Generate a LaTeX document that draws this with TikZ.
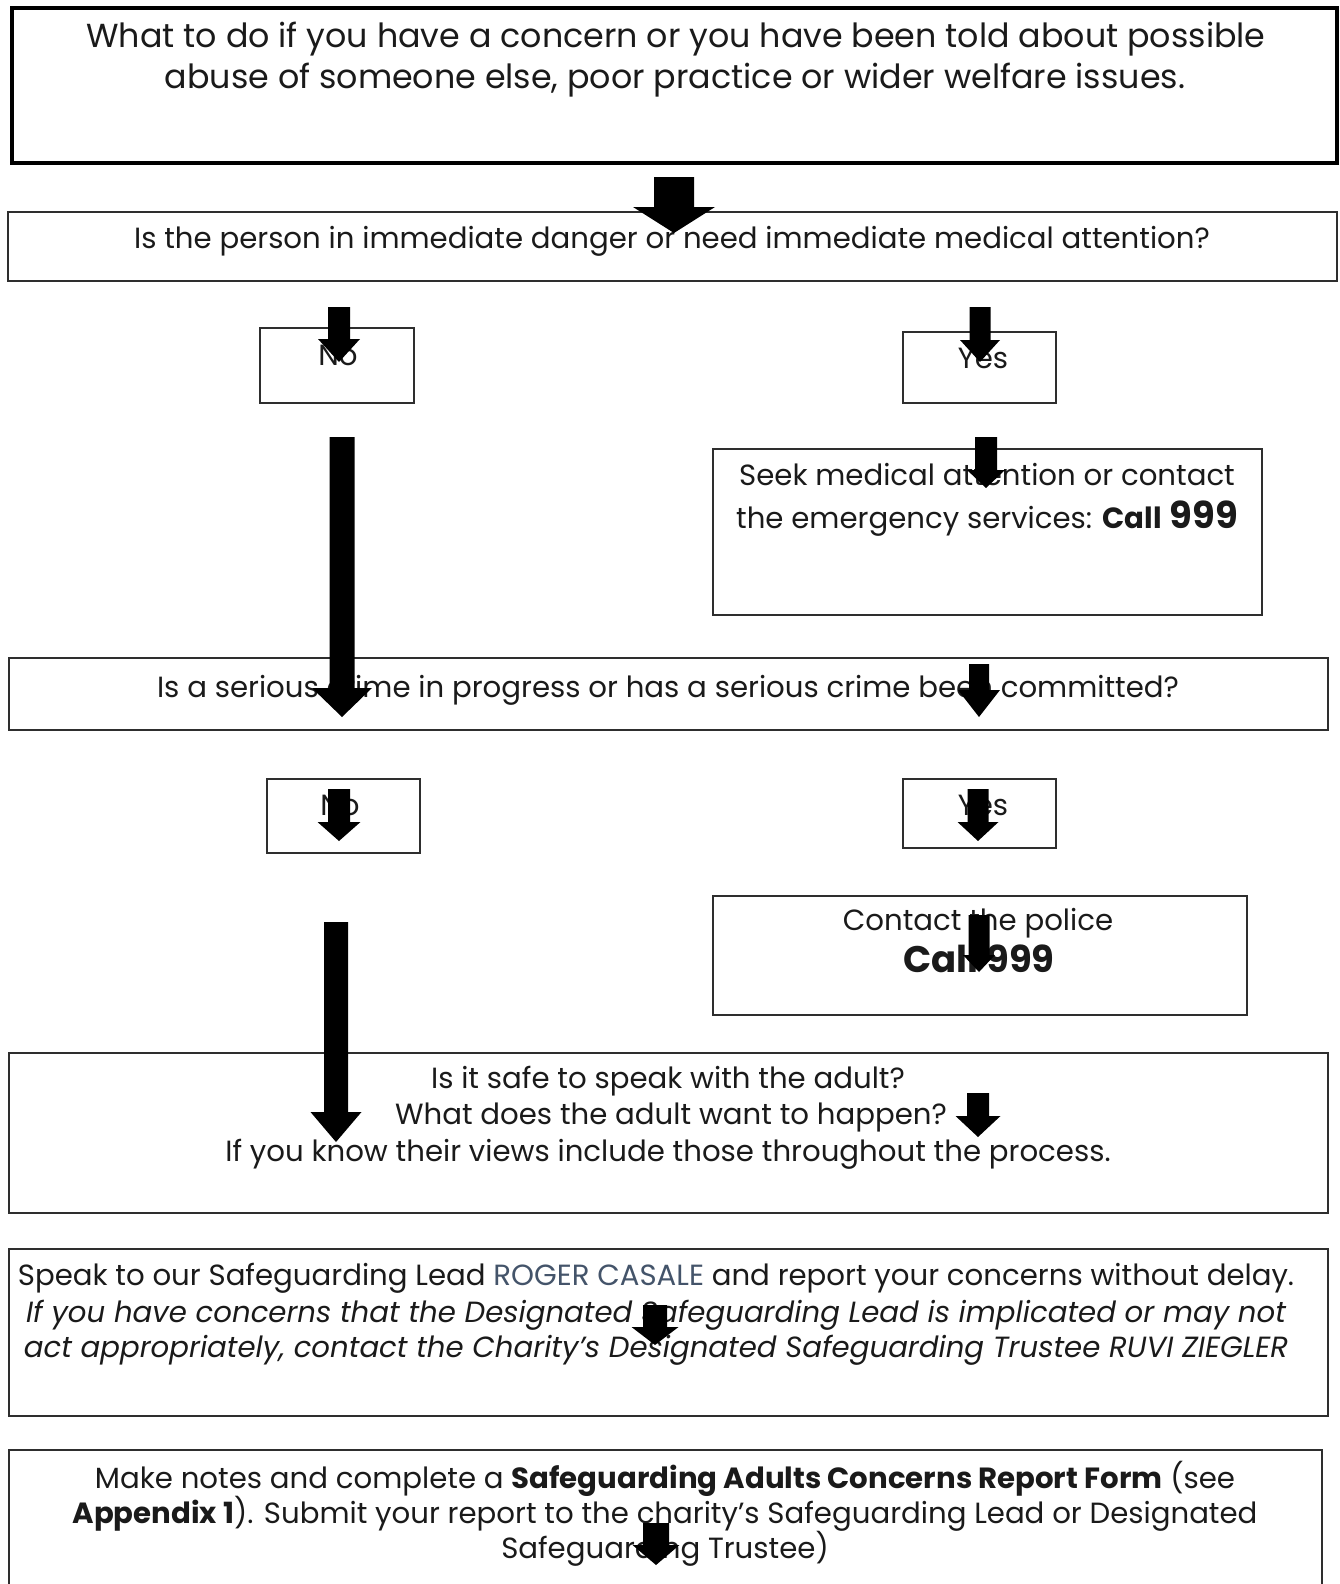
\documentclass[tikz,border=0pt]{standalone}
\usepackage{fontspec}
\setmainfont{Poppins}
\definecolor{ink}{HTML}{1A1A1A}
\definecolor{boxc}{HTML}{2E2E2E}
\definecolor{slate}{HTML}{44546A}
\newcommand\blkarrow[6]{\fill[black] (#1-#5,#2) -- (#1+#5,#2) -- (#1+#5,#3) -- (#1+#6,#3) -- (#1,#4) -- (#1-#6,#3) -- (#1-#5,#3) -- cycle;}
\begin{document}
\begin{tikzpicture}[x=1pt,y=-1pt,
  box/.style={draw=boxc, line width=1.6pt, inner sep=0pt, rectangle, fill=none},
  bigbox/.style={draw=black, line width=4.5pt, inner sep=0pt, rectangle},
  txt/.style={inner sep=0pt, anchor=base, text=ink, font=\fontsize{29.2}{35}\selectfont},
  bigtxt/.style={txt, font=\fontsize{33.3}{40}\selectfont},
  numtxt/.style={txt, font=\fontsize{37}{42}\selectfont\bfseries}]
\useasboundingbox (0,0) rectangle (1340,1584);
\clip (0,0) rectangle (1340,1584);
\fill[white] (0,0) rectangle (1340,1584);
% boxes
\node[bigbox, minimum width=1325pt, minimum height=155pt] (top) at (674.5,85.5) {};
\node[box, minimum width=1329pt, minimum height=69pt] (q1) at (672.5,246.5) {};
\node[box, minimum width=154pt, minimum height=75pt] (no1) at (337,365.5) {};
\node[box, minimum width=153pt, minimum height=71pt] (yes1) at (979.5,367.5) {};
\node[box, minimum width=549pt, minimum height=166pt] (seek) at (987.5,532) {};
\node[box, minimum width=1319pt, minimum height=72pt] (q2) at (668.5,694) {};
\node[box, minimum width=153pt, minimum height=74pt] (no2) at (343.5,816) {};
\node[box, minimum width=153pt, minimum height=69pt] (yes2) at (979.5,813.5) {};
\node[box, minimum width=534pt, minimum height=119pt] (police) at (980,955.5) {};
\node[box, minimum width=1319pt, minimum height=160pt] (q3) at (668.5,1133) {};
\node[box, minimum width=1319pt, minimum height=167pt] (speak) at (668.5,1332.5) {};
\node[box, minimum width=1313pt, minimum height=150pt] (make) at (665.5,1525) {};
% texts
\node[bigtxt] (t1a) at (676,48) {What to do if you have a concern or you have been told about possible};
\node[bigtxt] (t1b) at (675,89) {abuse of someone else, poor practice or wider welfare issues.};
\node[txt] (q1t) at (672,248) {Is the person in immediate danger or need immediate medical attention?};
\node[txt] (no1t) at (338,365) {No};
\node[txt] (yes1t) at (983,368) {Yes};
\node[txt] (seeka) at (987,485) {Seek medical attention or contact};
\node[txt] (seekb) at (987,528) {the emergency services: \textbf{Call} {\fontsize{37}{42}\selectfont\bfseries 999}};
\node[txt] (q2t) at (668,697) {Is a serious crime in progress or has a serious crime been committed?};
\node[txt] (no2t) at (340,815) {No};
\node[txt] (yes2t) at (983,815) {Yes};
\node[txt] (pola) at (978,930) {Contact the police};
\node[numtxt] (polb) at (979,972) {Call 999};
\node[txt] (q3a) at (668,1088) {Is it safe to speak with the adult?};
\node[txt] (q3b) at (671,1124) {What does the adult want to happen?};
\node[txt] (q3c) at (668,1161) {If you know their views include those throughout the process.};
\node[txt] (spa) at (656,1285) {Speak to our Safeguarding Lead \textcolor{slate}{ROGER CASALE} and report your concerns without delay.};
\node[txt] (spb) at (656,1322) {\itshape If you have concerns that the Designated Safeguarding Lead is implicated or may not};
\node[txt] (spc) at (656,1357) {\itshape act appropriately, contact the Charity’s Designated Safeguarding Trustee RUVI ZIEGLER};
\node[txt] (mka) at (665,1488) {Make notes and complete a \textbf{Safeguarding Adults Concerns Report Form} (see};
\node[txt] (mkb) at (665,1523) {\textbf{Appendix 1}). Submit your report to the charity’s Safeguarding Lead or Designated};
\node[txt] (mkc) at (665,1558) {Safeguarding Trustee)};
% block arrows
\blkarrow{674}{177}{207}{233}{20}{41}
\blkarrow{339}{307}{339}{362}{11}{21}
\blkarrow{980}{307}{340}{362}{10.5}{20}
\blkarrow{986}{437}{470}{488}{11}{19}
\blkarrow{342}{437}{688}{717}{12.5}{30}
\blkarrow{979}{664}{690}{717}{10}{21}
\blkarrow{339}{789}{822}{841}{11}{21.5}
\blkarrow{978}{789}{822}{841}{10.5}{20.5}
\blkarrow{979}{915}{955}{972}{10.5}{16}
\blkarrow{336}{922}{1112}{1142}{12}{25.5}
\blkarrow{978}{1093}{1116}{1137}{11}{22.5}
\blkarrow{655}{1305}{1327}{1345}{12}{23.5}
\blkarrow{656}{1523}{1545}{1565}{13}{23.5}
\end{tikzpicture}
\end{document}
